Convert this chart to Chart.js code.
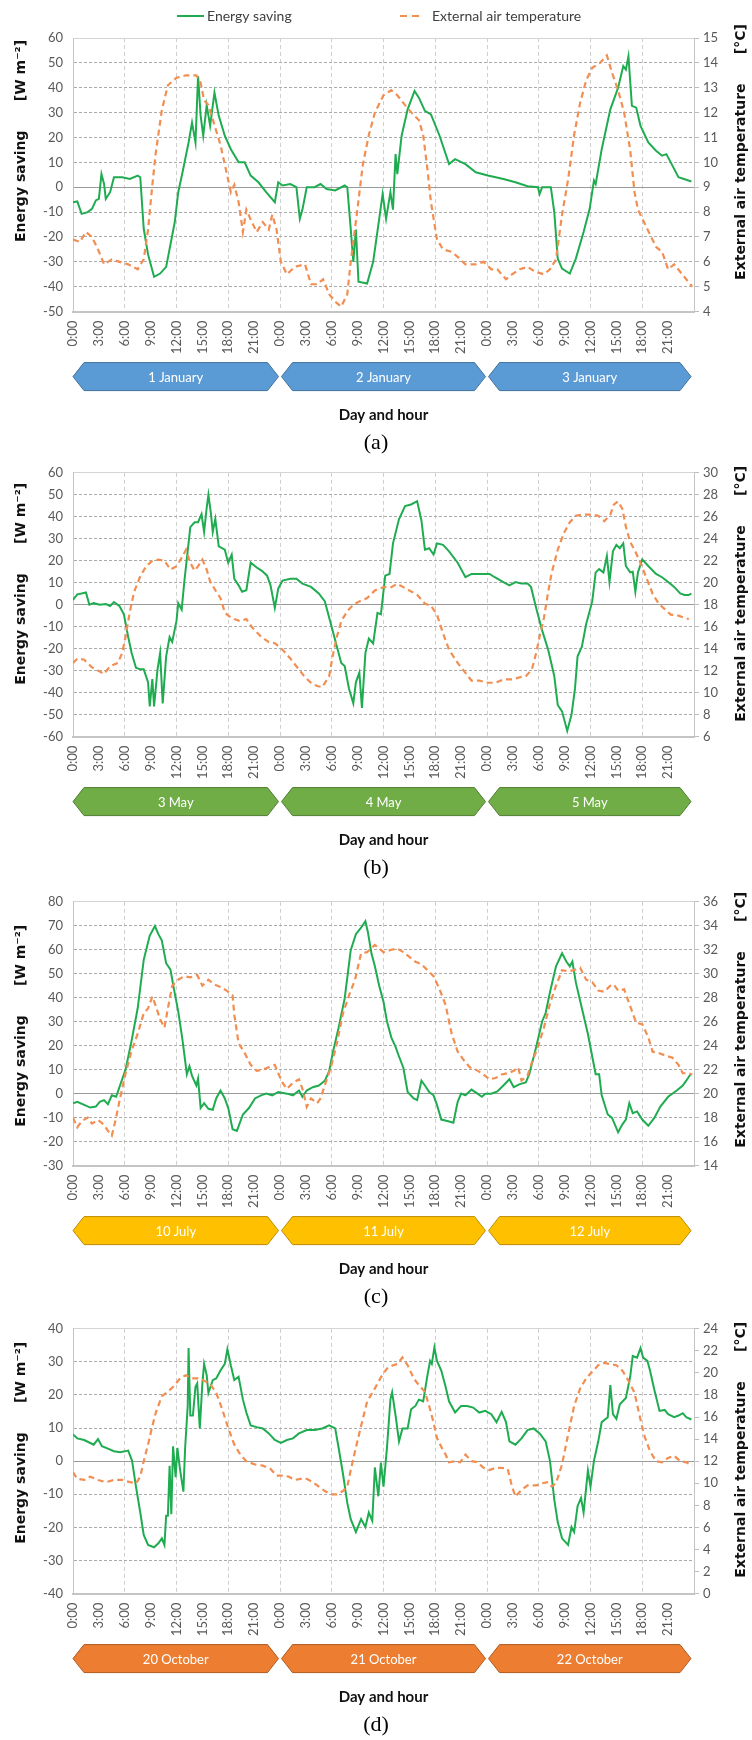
<!DOCTYPE html>
<html>
<head>
<meta charset="utf-8">
<script src="https://cdn.jsdelivr.net/npm/chart.js@4.4.0/dist/chart.umd.min.js"></script>
<style>
  body { margin:0; background:#fff; width:752px; height:1740px; overflow:hidden; position:relative; }
  canvas { position:absolute; left:0; }
</style>
</head>
<body>
<canvas id="chartA"></canvas>
<canvas id="chartB"></canvas>
<canvas id="chartC"></canvas>
<canvas id="chartD"></canvas>
<script>
// each series is [hour, value], hour 0..72 over three days
var savingA = [[0,-6],[0.5,-5.7],[1,-10.7],[1.7,-10],[2.2,-8.7],[2.65,-5.3],[3,-4.7],[3.3,5.3],[3.6,1.3],[3.8,-4.7],[4.3,-2],[4.75,4],[5.7,4],[6.6,3.3],[7.5,4.7],[7.8,4],[8.2,-16.7],[8.7,-27],[9.4,-36],[10.1,-34.7],[10.8,-32],[11.8,-14],[12.2,-2],[12.7,6],[13.4,18],[13.8,26],[14.2,18],[14.5,44.7],[14.8,28.7],[15.1,20.7],[15.5,33],[15.9,24.7],[16.4,38],[16.9,28.7],[17.6,20.7],[18.3,15.3],[19.2,10],[19.9,10],[20.6,4.7],[21.5,2],[22.4,-2],[23.4,-6],[23.8,2],[24.3,0.7],[25.2,1.3],[25.9,0],[26.3,-12.7],[26.6,-9],[27.1,0],[28,0],[28.7,1.3],[29.4,-0.7],[30.4,-1.3],[31.5,0.7],[31.8,0],[32.2,-16.7],[32.5,-30],[32.8,-17],[33.1,-38],[34.1,-38.7],[34.8,-30],[35.5,-12.7],[35.9,-2.7],[36.3,-12.7],[36.8,-2],[37.1,-9],[37.4,13.3],[37.6,5.3],[38.1,20.7],[38.8,31.3],[39.6,38.7],[40.1,36],[40.8,30.7],[41.5,29.3],[42.5,20.7],[43.6,9.3],[44.3,11.3],[45.5,9.3],[46.7,6],[48.1,4.7],[49.9,3.3],[51.3,2],[52.7,0.4],[53.9,0],[54.1,-2.7],[54.4,0],[55.4,0],[55.8,-10],[56.2,-28.7],[56.7,-32.7],[57.6,-34.7],[58.3,-28.7],[59.2,-18],[59.9,-8.7],[60.4,2.7],[60.6,1.3],[61.3,15.3],[62.3,31.3],[63.2,40],[63.8,48.7],[64.1,47.3],[64.4,52.7],[64.8,32.7],[65.3,32],[65.8,24.7],[66.7,18],[67.6,14.7],[68.3,12.7],[68.8,13.3],[69.5,8.7],[70.2,4],[71.1,3],[71.7,2.3]];
var tempA = [[0,6.9],[0.8,6.8],[1.5,7.2],[2.2,7.0],[2.9,6.5],[3.6,5.9],[4.5,6.1],[5.4,6.0],[6.4,5.9],[7.5,5.7],[8.2,6.1],[8.7,7.3],[9.2,9.1],[9.6,10.4],[10.3,12.1],[11,13.1],[12,13.4],[13.1,13.5],[14.3,13.5],[14.8,13.2],[15.2,12.5],[15.7,12.3],[16.4,11.5],[17.1,10.7],[17.8,9.6],[18.3,8.8],[18.7,9.1],[19.2,8.4],[19.7,7.2],[20.1,8.1],[20.6,7.7],[21.3,7.2],[22,7.6],[22.7,7.3],[23.1,7.9],[23.6,7.3],[24.1,6.0],[24.8,5.5],[25.7,5.8],[26.9,5.9],[27.6,5.1],[28.3,5.1],[29,5.3],[29.7,4.7],[30.4,4.4],[31.1,4.2],[31.8,4.7],[32.2,6.0],[32.9,7.9],[33.6,9.9],[34.3,11.1],[35,12.0],[36,12.7],[36.9,12.9],[37.6,12.7],[38.5,12.3],[39.5,11.9],[40.1,11.7],[40.6,11.1],[41.1,9.7],[41.5,8.4],[42.2,6.9],[42.9,6.5],[43.9,6.4],[44.6,6.2],[45.5,5.9],[46.7,5.9],[47.6,6.0],[48.5,5.7],[49.2,5.7],[50.2,5.3],[50.9,5.5],[51.8,5.7],[52.7,5.8],[53.6,5.6],[54.6,5.5],[55.3,5.7],[56,6.1],[56.7,7.9],[57.4,9.3],[58.1,11.1],[58.8,12.4],[59.5,13.3],[60.2,13.8],[61.1,14.0],[61.9,14.3],[62.5,13.6],[63.2,12.9],[63.9,12.0],[64.6,10.5],[65.1,8.8],[65.5,8.1],[66.2,7.6],[66.9,7.1],[67.6,6.6],[68.3,6.4],[69,5.7],[69.7,5.9],[70.4,5.6],[71.1,5.3],[71.8,5.0]];

var savingB = [[0,2.2],[0.5,4.7],[1,5.1],[1.5,5.6],[1.9,0],[2.4,0.7],[3.1,0],[3.8,0.3],[4.3,-0.6],[4.75,1.2],[5.4,-0.7],[5.9,-4.4],[6.4,-14.7],[6.8,-22],[7.3,-28.7],[7.8,-29.4],[8.2,-29.4],[8.7,-35.3],[8.9,-46.3],[9.2,-33.8],[9.4,-46.3],[9.8,-29.4],[10.1,-22],[10.4,-44.9],[10.8,-23.5],[11.2,-14.7],[11.5,-16.9],[12,-7.4],[12.2,0.7],[12.6,-2.2],[12.9,10.3],[13.6,35.3],[14.1,37.5],[14.5,37.5],[14.9,41.2],[15.2,33.1],[15.5,44.1],[15.7,50],[16,41.2],[16.2,33.1],[16.5,39],[16.9,26.5],[17.6,25],[18,19.1],[18.4,22.8],[18.7,11.8],[19.2,8.8],[19.6,5.9],[20.1,6.6],[20.6,19.1],[21.3,16.9],[21.9,15.4],[22.5,13.2],[22.9,8.8],[23.4,-1.5],[23.8,7.4],[24.3,11],[25.2,11.8],[25.9,11.8],[26.6,9.6],[27.6,8.1],[28.5,5.1],[29.2,1.5],[29.9,-8.8],[30.6,-19.1],[31.1,-26.5],[31.5,-27.9],[32,-38.2],[32.5,-44.9],[32.8,-35.3],[33.2,-30.9],[33.5,-47],[33.9,-22],[34.3,-15.4],[34.8,-17.6],[35.3,-3.7],[35.7,-4.4],[36.2,13.2],[36.7,14],[37.1,27.9],[37.8,39],[38.5,44.9],[39.2,45.6],[39.9,47.1],[40.4,38.2],[40.8,25],[41.3,25.7],[41.8,22.8],[42.2,27.9],[42.9,27.2],[43.6,24.3],[44.6,19.1],[45.5,12.5],[46.2,14],[47.1,14],[48.3,14],[48.9,12.5],[49.9,10.3],[50.6,8.8],[51.3,10.3],[52,9.6],[52.7,9.6],[53.1,8.1],[53.7,-1.5],[54.4,-11.8],[55.1,-20.6],[55.8,-32.4],[56.2,-45.6],[56.7,-48.5],[57.3,-57.4],[57.8,-50],[58.2,-38.2],[58.5,-23.5],[59,-19.1],[59.5,-8.8],[60.2,1.5],[60.6,14.7],[61,16.2],[61.5,14.7],[61.9,22.1],[62.2,10.3],[62.6,24.3],[63,27.2],[63.4,25.7],[63.8,27.9],[64.1,17.6],[64.6,14.7],[64.9,15],[65.2,5.9],[65.5,14.7],[66,20.6],[66.7,17.6],[67.6,14],[68.3,12.5],[69,10.3],[69.7,8.1],[70.4,5.1],[70.9,4.4],[71.4,4.4],[71.7,5.1]];
var tempB = [[0,12.7],[0.5,13.1],[1.3,13.0],[2.2,12.3],[2.9,12.0],[3.6,11.7],[4.3,12.4],[5.2,12.7],[5.7,13.6],[6.1,15.1],[6.6,17.4],[7.1,19.2],[7.8,20.6],[8.5,21.5],[9.2,22.0],[9.9,22.1],[10.6,22.0],[11.3,21.2],[12,21.5],[12.7,22.4],[13.1,23.0],[13.6,21.8],[14.1,21.1],[14.5,21.5],[15,22.1],[15.5,21.2],[15.9,20.1],[16.6,19.2],[17.1,18.6],[17.6,17.3],[18,17.0],[18.7,16.7],[19.4,16.5],[20.1,16.7],[20.8,15.9],[21.8,15.1],[22.7,14.6],[23.4,14.5],[24.3,13.9],[25.2,13.1],[26.2,12.1],[26.9,11.4],[27.6,10.9],[28.3,10.6],[28.9,10.5],[29.7,11.5],[30.1,13.3],[30.6,15.1],[31.1,16.5],[31.8,17.4],[32.5,18.0],[33.2,18.3],[34.1,18.6],[35,19.3],[36,19.6],[36.9,19.6],[37.6,19.9],[38.3,19.6],[39,19.3],[39.9,18.9],[40.8,18.1],[41.5,17.9],[42.2,17.1],[42.9,15.4],[43.6,13.9],[44.6,12.7],[45.5,11.8],[46.2,11.1],[47.1,11.1],[48.1,10.9],[49,10.9],[49.9,11.2],[50.9,11.2],[51.8,11.4],[52.5,11.5],[53.2,12.1],[53.7,13.6],[54.1,15.1],[54.6,16.8],[55.1,19.2],[55.5,20.9],[56.2,23.0],[56.9,24.5],[57.6,25.5],[58.3,26.1],[59.2,26.2],[60.2,26.2],[60.9,26.1],[61.6,25.6],[62.3,26.2],[62.7,27.1],[63.2,27.4],[63.7,26.7],[64.1,25.1],[64.6,23.7],[65.1,23.0],[65.8,21.8],[66.5,20.4],[67.2,19.0],[67.9,18.1],[68.6,17.6],[69.3,17.1],[70.2,17.0],[70.9,16.8],[71.4,16.7]];

var savingC = [[0,-4],[0.5,-3.4],[1.3,-4.7],[2,-5.8],[2.65,-5.4],[3.1,-3.4],[3.6,-2.7],[4.05,-4.4],[4.5,-0.7],[5,-1.3],[5.45,3.4],[6.1,10.1],[6.8,22.2],[7.5,35.6],[8.2,55.8],[8.9,65.9],[9.5,69.9],[9.9,66.5],[10.3,63.8],[10.8,54.4],[11.3,51.7],[11.7,43.7],[12.2,34.3],[12.7,22.2],[13.2,8.1],[13.5,11.4],[13.8,7.4],[14.3,3.4],[14.5,6.3],[14.8,-6],[15.2,-4],[15.7,-6.3],[16.2,-6.7],[16.6,-2],[17.1,1.3],[17.6,-2],[18,-6],[18.5,-14.8],[19,-15.5],[19.7,-8.7],[20.4,-6],[21.1,-2],[21.8,-0.7],[22.4,0],[23.1,-0.7],[23.8,0.7],[24.8,0],[25.5,-0.7],[26.2,1.3],[26.6,-1.3],[27.1,1.3],[27.8,2.7],[28.5,3.4],[29.2,5.4],[29.7,9.4],[30.1,16.8],[30.8,27.6],[31.5,39.7],[32.2,59.8],[32.8,66.5],[33.4,69.2],[33.9,71.9],[34.2,67.2],[34.6,58.5],[35,53.1],[35.5,45],[36,38.3],[36.4,30.2],[36.9,23.5],[37.4,19.5],[37.8,15.5],[38.3,10.8],[38.8,0.7],[39.5,-2],[39.9,-2.7],[40.4,5.4],[40.8,3.4],[41.3,0.7],[41.8,-0.7],[42.2,-4.7],[42.7,-10.8],[43.4,-11.4],[44.1,-12.1],[44.6,-3.4],[45,0],[45.5,-0.7],[46.2,1.7],[46.9,0],[47.4,-1.3],[47.8,0],[48.5,0],[49.2,0.9],[49.9,3.4],[50.6,6],[51.1,2.7],[51.8,4],[52.5,4.7],[52.9,8.1],[53.7,19.5],[54.4,30.2],[54.8,33.6],[55.3,42.3],[56,53.1],[56.7,58.5],[57.2,55.1],[57.6,53.1],[57.9,55.1],[58.3,46.4],[59,35.6],[59.7,24.9],[60.2,15.5],[60.6,8.1],[61,8.1],[61.3,-0.7],[62,-8.7],[62.5,-10.1],[63.2,-16.1],[63.7,-12.8],[64.1,-10.8],[64.5,-4],[64.9,-8.1],[65.4,-7.4],[66,-10.8],[66.7,-13.4],[67.4,-10.1],[68.1,-5.4],[69,-1.3],[70,1.3],[70.7,3.4],[71.1,5.4],[71.6,8.1]];
var tempC = [[0,18.0],[0.5,17.2],[1,17.7],[1.7,18.0],[2.2,17.5],[2.9,17.8],[3.6,17.4],[4.05,16.9],[4.5,16.5],[5,18.0],[5.45,19.6],[6.1,21.7],[6.8,23.6],[7.5,25.0],[8.2,26.7],[8.7,27.1],[9.2,28.1],[9.6,27.3],[10.1,26.2],[10.6,25.5],[11,27.1],[11.5,29.0],[12.2,29.5],[12.9,29.8],[13.6,29.7],[14.4,29.9],[15,29.0],[15.7,29.5],[16.4,29.1],[17.1,28.9],[17.8,28.6],[18.5,28.2],[18.7,26.6],[19.2,24.2],[19.9,23.4],[20.6,22.4],[21.3,21.9],[22,22.0],[22.7,22.2],[23.4,22.4],[23.8,21.7],[24.3,20.9],[24.8,20.4],[25.5,20.9],[26.2,21.2],[26.6,20.4],[27.1,18.9],[27.6,19.6],[28.3,19.2],[28.7,19.6],[29.2,20.7],[29.9,22.2],[30.6,24.2],[31.3,26.7],[32,28.2],[32.7,29.5],[33.4,31.7],[34.1,31.8],[35,32.4],[36,31.8],[36.9,32.0],[37.6,32.1],[38.3,31.8],[39,31.4],[39.7,31.0],[40.4,30.8],[41.1,30.3],[41.8,29.8],[42.5,28.7],[43.2,27.4],[43.9,25.0],[44.6,23.5],[45.3,22.8],[46,22.2],[46.7,22.0],[47.4,21.7],[48.3,21.2],[49,21.3],[49.7,21.6],[50.4,21.7],[51.1,21.9],[51.6,22.2],[52,21.1],[52.7,21.5],[53.2,22.6],[53.9,23.9],[54.6,25.5],[55.3,27.5],[56,29.0],[56.7,30.3],[57.4,30.2],[58.1,30.3],[58.8,30.5],[59.5,29.5],[60.2,29.3],[60.9,28.6],[61.6,28.5],[62.3,29.0],[62.7,29.1],[63.2,28.6],[63.9,28.7],[64.6,27.3],[65.3,25.9],[66,25.8],[66.7,24.7],[67.2,23.5],[67.9,23.4],[68.6,23.2],[69.5,23.0],[70.2,22.4],[70.7,21.7],[71.4,21.7],[71.8,21.6]];

var savingD = [[0,8.1],[0.5,6.9],[1.3,6.4],[2,5.5],[2.4,5],[2.9,6.7],[3.35,4.5],[4.05,3.8],[4.75,3],[5.45,2.7],[6.4,3.2],[6.85,0.1],[7.3,-7.7],[7.8,-15.5],[8.2,-22.3],[8.7,-25.3],[9.4,-26],[9.9,-24.8],[10.3,-23.3],[10.6,-25.3],[10.8,-16.5],[11,-16.5],[11.2,-1.4],[11.4,-16],[11.6,4.5],[11.9,-4.8],[12.1,4],[12.4,-2.3],[12.8,-9.2],[13,4],[13.3,16.7],[13.4,34.2],[13.6,13.8],[13.9,13.8],[14.2,22.5],[14.4,23.5],[14.7,9.9],[15,23.5],[15.2,29.4],[15.5,26],[15.7,20.6],[16.2,24.5],[16.6,25],[17.1,27.4],[17.6,29.4],[17.9,33.8],[18.3,28.9],[18.7,24.5],[19.2,25.5],[19.7,18.6],[20.1,14.7],[20.6,10.8],[21.3,10.3],[22,9.9],[22.7,8.4],[23.4,6.4],[24.1,5.5],[24.8,6.4],[25.5,6.9],[26.2,8.4],[27.1,9.4],[28,9.4],[28.9,9.9],[29.7,10.8],[30.4,9.9],[30.8,4],[31.3,-3.8],[31.8,-12.6],[32.2,-17.5],[32.8,-21.4],[33.4,-17.5],[33.9,-19.9],[34.3,-15.5],[34.7,-18],[35,-1.9],[35.4,-10.6],[35.7,-0.4],[36,-7.7],[36.4,4],[36.8,18.6],[37,20.8],[37.4,13.8],[37.8,6],[38.2,9.9],[38.8,9.9],[39.2,15.7],[39.7,16.7],[40.1,18.6],[40.6,18.1],[41.1,26],[41.4,30.3],[41.6,29.4],[41.9,34.4],[42.2,30.3],[42.7,27.4],[43.2,22.5],[43.6,18.1],[44.3,14.7],[45,16.7],[45.7,16.7],[46.4,16.2],[47.1,14.7],[47.8,15.2],[48.5,14.2],[49.1,11.8],[49.7,14.9],[50.2,11.8],[50.6,6],[51.3,5],[52,6.9],[52.7,9.4],[53.4,9.9],[54.1,8.4],[54.8,6],[55.3,0.1],[55.8,-11.6],[56.2,-18.4],[56.7,-23.3],[57.4,-25.3],[57.8,-19.9],[58.1,-21.4],[58.5,-13.6],[58.9,-11.1],[59.2,-15.5],[59.7,-2.8],[60,-7.7],[60.4,0.1],[60.9,6],[61.3,11.8],[62,13.3],[62.3,23],[62.6,14.2],[63,12.8],[63.4,17.2],[64.1,19.1],[64.6,25.5],[64.9,31.8],[65.4,31.3],[65.8,34.2],[66.1,31.3],[66.6,30.3],[66.9,27.4],[67.4,21.6],[68,15.2],[68.6,15.5],[69,14.2],[69.7,13.3],[70.2,13.8],[70.7,14.5],[71.1,13.3],[71.7,12.6]];
var tempD = [[0,11.0],[0.5,10.4],[1.3,10.3],[2,10.6],[2.9,10.3],[3.8,10.1],[4.75,10.3],[5.7,10.3],[6.6,10.1],[7.3,10.0],[7.8,10.6],[8.2,12.0],[8.7,13.5],[9.2,15.2],[9.6,16.4],[10.3,17.9],[11,18.3],[11.7,18.8],[12.4,19.5],[13.1,19.8],[13.8,19.5],[14.5,19.5],[15.2,19.3],[15.9,19.0],[16.6,18.2],[17.3,16.7],[18,15.0],[18.7,13.5],[19.4,12.6],[20.1,12.0],[21.1,11.7],[22,11.6],[22.9,11.3],[23.6,10.7],[24.3,10.7],[25,10.6],[25.7,10.3],[26.4,10.4],[27.1,10.4],[27.8,10.1],[28.5,9.7],[29.2,9.3],[29.9,9.0],[30.6,9.0],[31.3,9.3],[31.8,9.7],[32.2,11.2],[32.7,12.9],[33.4,15.2],[34.1,17.4],[35,18.6],[35.7,19.6],[36.4,20.4],[37.1,20.7],[37.6,20.8],[38.2,21.4],[38.8,20.7],[39.5,19.5],[40.1,18.9],[40.8,18.3],[41.3,17.0],[41.8,15.5],[42.2,14.1],[42.7,13.3],[43.2,12.6],[43.6,11.9],[44.3,12.0],[44.9,11.9],[45.5,12.6],[46.2,12.0],[46.9,11.9],[47.6,11.4],[48.3,11.2],[49,11.4],[49.7,11.4],[50.4,11.3],[50.9,9.7],[51.3,8.8],[52,9.4],[52.7,9.8],[53.7,9.8],[54.4,10.0],[55.1,10.1],[55.5,9.7],[56,10.0],[56.7,11.7],[57.4,14.4],[58.1,17.0],[58.8,18.6],[59.5,19.5],[60.2,20.1],[60.9,20.7],[61.6,20.9],[62.3,20.8],[63,20.7],[63.7,20.2],[64.4,19.3],[65.1,18.2],[65.7,16.1],[66.2,14.4],[66.9,12.9],[67.6,12.0],[68.3,11.9],[69,12.3],[69.7,12.5],[70.4,12.0],[71.1,11.9],[71.8,11.6]];

var hourLabels = ['0:00','3:00','6:00','9:00','12:00','15:00','18:00','21:00'];
var daysA = ['1 January','2 January','3 January'];
var daysB = ['3 May','4 May','5 May'];
var daysC = ['10 July','11 July','12 July'];
var daysD = ['20 October','21 October','22 October'];
var seriesNames = ['Energy saving','External air temperature'];

var GREEN = '#1fac50';
var ORANGE = '#f28e52';

function toPoints(pairs){
  return pairs.map(function(p){ return {x:p[0], y:p[1]}; });
}

// banners, axis titles, legend
var decor = {
  id: 'decor',
  afterDraw: function(chart){
    var o = chart.options.plugins.decor;
    var ctx = chart.ctx, a = chart.chartArea, xs = chart.scales.x;
    ctx.save();
    // day banners
    for (var d = 0; d < 3; d++) {
      var x1 = xs.getPixelForValue(d*24) + (d === 0 ? 0 : 1.5);
      var x2 = xs.getPixelForValue(d*24 + 24) - (d === 2 ? 3 : 1.5);
      var yt = a.bottom + 51, h = 28, tip = 11;
      ctx.beginPath();
      ctx.moveTo(x1, yt + h/2);
      ctx.lineTo(x1 + tip, yt);
      ctx.lineTo(x2 - tip, yt);
      ctx.lineTo(x2, yt + h/2);
      ctx.lineTo(x2 - tip, yt + h);
      ctx.lineTo(x1 + tip, yt + h);
      ctx.closePath();
      ctx.fillStyle = o.fill;
      ctx.fill();
      ctx.lineWidth = 1;
      ctx.strokeStyle = o.stroke;
      ctx.stroke();
      ctx.fillStyle = '#ffffff';
      ctx.font = '13px Lato';
      ctx.textAlign = 'center';
      ctx.textBaseline = 'middle';
      ctx.fillText(o.days[d], (x1 + x2)/2, yt + h/2 + 1);
    }
    // rotated axis titles
    ctx.fillStyle = '#111';
    ctx.font = 'bold 14px "DejaVu Sans"';
    ctx.textAlign = 'center';
    ctx.textBaseline = 'middle';
    ctx.save();
    ctx.translate(21, a.top + o.leftMid);
    ctx.rotate(-Math.PI/2);
    ctx.fillText('Energy saving      [W m\u207B\u00B2]', 0, 0);
    ctx.restore();
    ctx.save();
    ctx.translate(741, a.top + o.rightMid);
    ctx.rotate(-Math.PI/2);
    ctx.fillText('External air temperature      [\u00B0C]', 0, 0);
    ctx.restore();
    // legend on the first panel only
    if (o.legend) {
      ctx.font = '14px Lato';
      ctx.textAlign = 'left';
      ctx.fillStyle = '#404040';
      ctx.lineWidth = 2;
      ctx.strokeStyle = GREEN;
      ctx.beginPath(); ctx.moveTo(177, 16); ctx.lineTo(204, 16); ctx.stroke();
      ctx.fillText(seriesNames[0], 207, 16);
      ctx.strokeStyle = ORANGE;
      ctx.setLineDash([7, 5]);
      ctx.beginPath(); ctx.moveTo(400, 16); ctx.lineTo(424, 16); ctx.stroke();
      ctx.setLineDash([]);
      ctx.fillText(seriesNames[1], 432, 16);
    }
    ctx.restore();
  }
};

function makePanel(id, cfg){
  var canvas = document.getElementById(id);
  var H = Math.round(cfg.padTop + cfg.plotH + 118 + 26.4 + 2);
  canvas.width = 752;
  canvas.height = H;
  canvas.style.top = cfg.top + 'px';
  var yMax = cfg.yMax;
  return new Chart(canvas, {
    type: 'line',
    data: {
      datasets: [{
        label: seriesNames[1],
        data: toPoints(cfg.temp),
        yAxisID: 'y2',
        borderColor: ORANGE,
        borderWidth: 2.2,
        borderDash: [6, 4],
        pointRadius: 0,
        tension: 0,
        fill: false
      }, {
        label: seriesNames[0],
        data: toPoints(cfg.saving),
        yAxisID: 'y',
        borderColor: GREEN,
        borderWidth: 2,
        pointRadius: 0,
        tension: 0,
        fill: false
      }]
    },
    options: {
      responsive: false,
      animation: false,
      devicePixelRatio: 1,
      layout: { padding: { top: cfg.padTop, left: 0, right: 0, bottom: 2 } },
      plugins: {
        legend: { display: false },
        tooltip: { enabled: false },
        title: {
          display: true,
          position: 'bottom',
          text: cfg.caption,
          color: '#000',
          font: { family: 'Liberation Serif', size: 22, weight: 'normal', lineHeight: 1.2 },
          padding: 0
        },
        decor: { days: cfg.days, fill: cfg.fill, stroke: cfg.stroke, legend: cfg.legend, leftMid: cfg.leftMid, rightMid: cfg.rightMid }
      },
      scales: {
        x: {
          type: 'linear',
          min: 0, max: 72,
          afterFit: function(s){ s.height = 118; },
          ticks: {
            stepSize: 3,
            autoSkip: false,
            maxRotation: 90, minRotation: 90,
            padding: 9,
            color: '#595959',
            font: { family: 'Lato', size: 13 },
            callback: function(v){ return v < 72 ? hourLabels[(v % 24) / 3] : ''; }
          },
          grid: {
            drawTicks: false,
            color: function(c){
              var v = c.tick ? c.tick.value : -1;
              return (v > 0 && v < 72 && v % 6 === 0) ? '#cfcfcf' : 'rgba(0,0,0,0)';
            }
          },
          border: { display: true, color: '#c4c4c4', width: 2, dash: [4, 3] },
          title: {
            display: true,
            text: 'Day and hour',
            color: '#111',
            font: { family: 'Lato', size: 15, weight: 'bold', lineHeight: 1.2 },
            padding: { top: 0, bottom: 5 }
          }
        },
        y: {
          position: 'left',
          min: cfg.yMin, max: cfg.yMax,
          afterFit: function(s){ s.width = 73; },
          ticks: { stepSize: 10, padding: 10, color: '#595959', font: { family: 'Lato', size: 13 } },
          grid: {
            drawTicks: false,
            color: function(c){
              var v = c.tick ? c.tick.value : 1;
              if (v === 0) return '#9a9a9a';
              if (v === yMax) return '#d4d4d4';
              return '#ababab';
            }
          },
          border: {
            display: true, color: '#c4c4c4', width: 1,
            dash: function(c){
              var v = c.tick ? c.tick.value : 0;
              return (v === 0 || v === yMax) ? [] : [3, 2];
            }
          },
          title: { display: false }
        },
        y2: {
          position: 'right',
          min: cfg.tMin, max: cfg.tMax,
          afterFit: function(s){ s.width = 58; },
          ticks: { stepSize: cfg.tStep, padding: 4, color: '#595959', font: { family: 'Lato', size: 13 } },
          grid: { drawOnChartArea: false, drawTicks: true, tickLength: 5, tickColor: '#bdbdbd' },
          border: { display: true, color: '#c4c4c4', width: 1 },
          title: { display: false }
        }
      }
    },
    plugins: [decor]
  });
}

makePanel('chartA', { top: 0, padTop: 38, plotH: 274, saving: savingA, temp: tempA, yMin: -50, yMax: 60, tMin: 4, tMax: 15, tStep: 1, days: daysA, fill: '#5b9bd5', stroke: '#41719c', caption: '(a)', legend: true, leftMid: 103, rightMid: 114 });
makePanel('chartB', { top: 455, padTop: 10, plotH: 272, saving: savingB, temp: tempB, yMin: -60, yMax: 60, tMin: 6, tMax: 30, tStep: 2, days: daysB, fill: '#70ad47', stroke: '#507e32', caption: '(b)', legend: false, leftMid: 111, rightMid: 121 });
makePanel('chartC', { top: 884, padTop: 10, plotH: 272, saving: savingC, temp: tempC, yMin: -30, yMax: 80, tMin: 14, tMax: 36, tStep: 2, days: daysC, fill: '#ffc000', stroke: '#bc8c00', caption: '(c)', legend: false, leftMid: 124, rightMid: 118 });
makePanel('chartD', { top: 1311, padTop: 10, plotH: 273, saving: savingD, temp: tempD, yMin: -40, yMax: 40, tMin: 0, tMax: 24, tStep: 2, days: daysD, fill: '#ed7d31', stroke: '#ae5a21', caption: '(d)', legend: false, leftMid: 114, rightMid: 121 });
</script>
</body>
</html>
